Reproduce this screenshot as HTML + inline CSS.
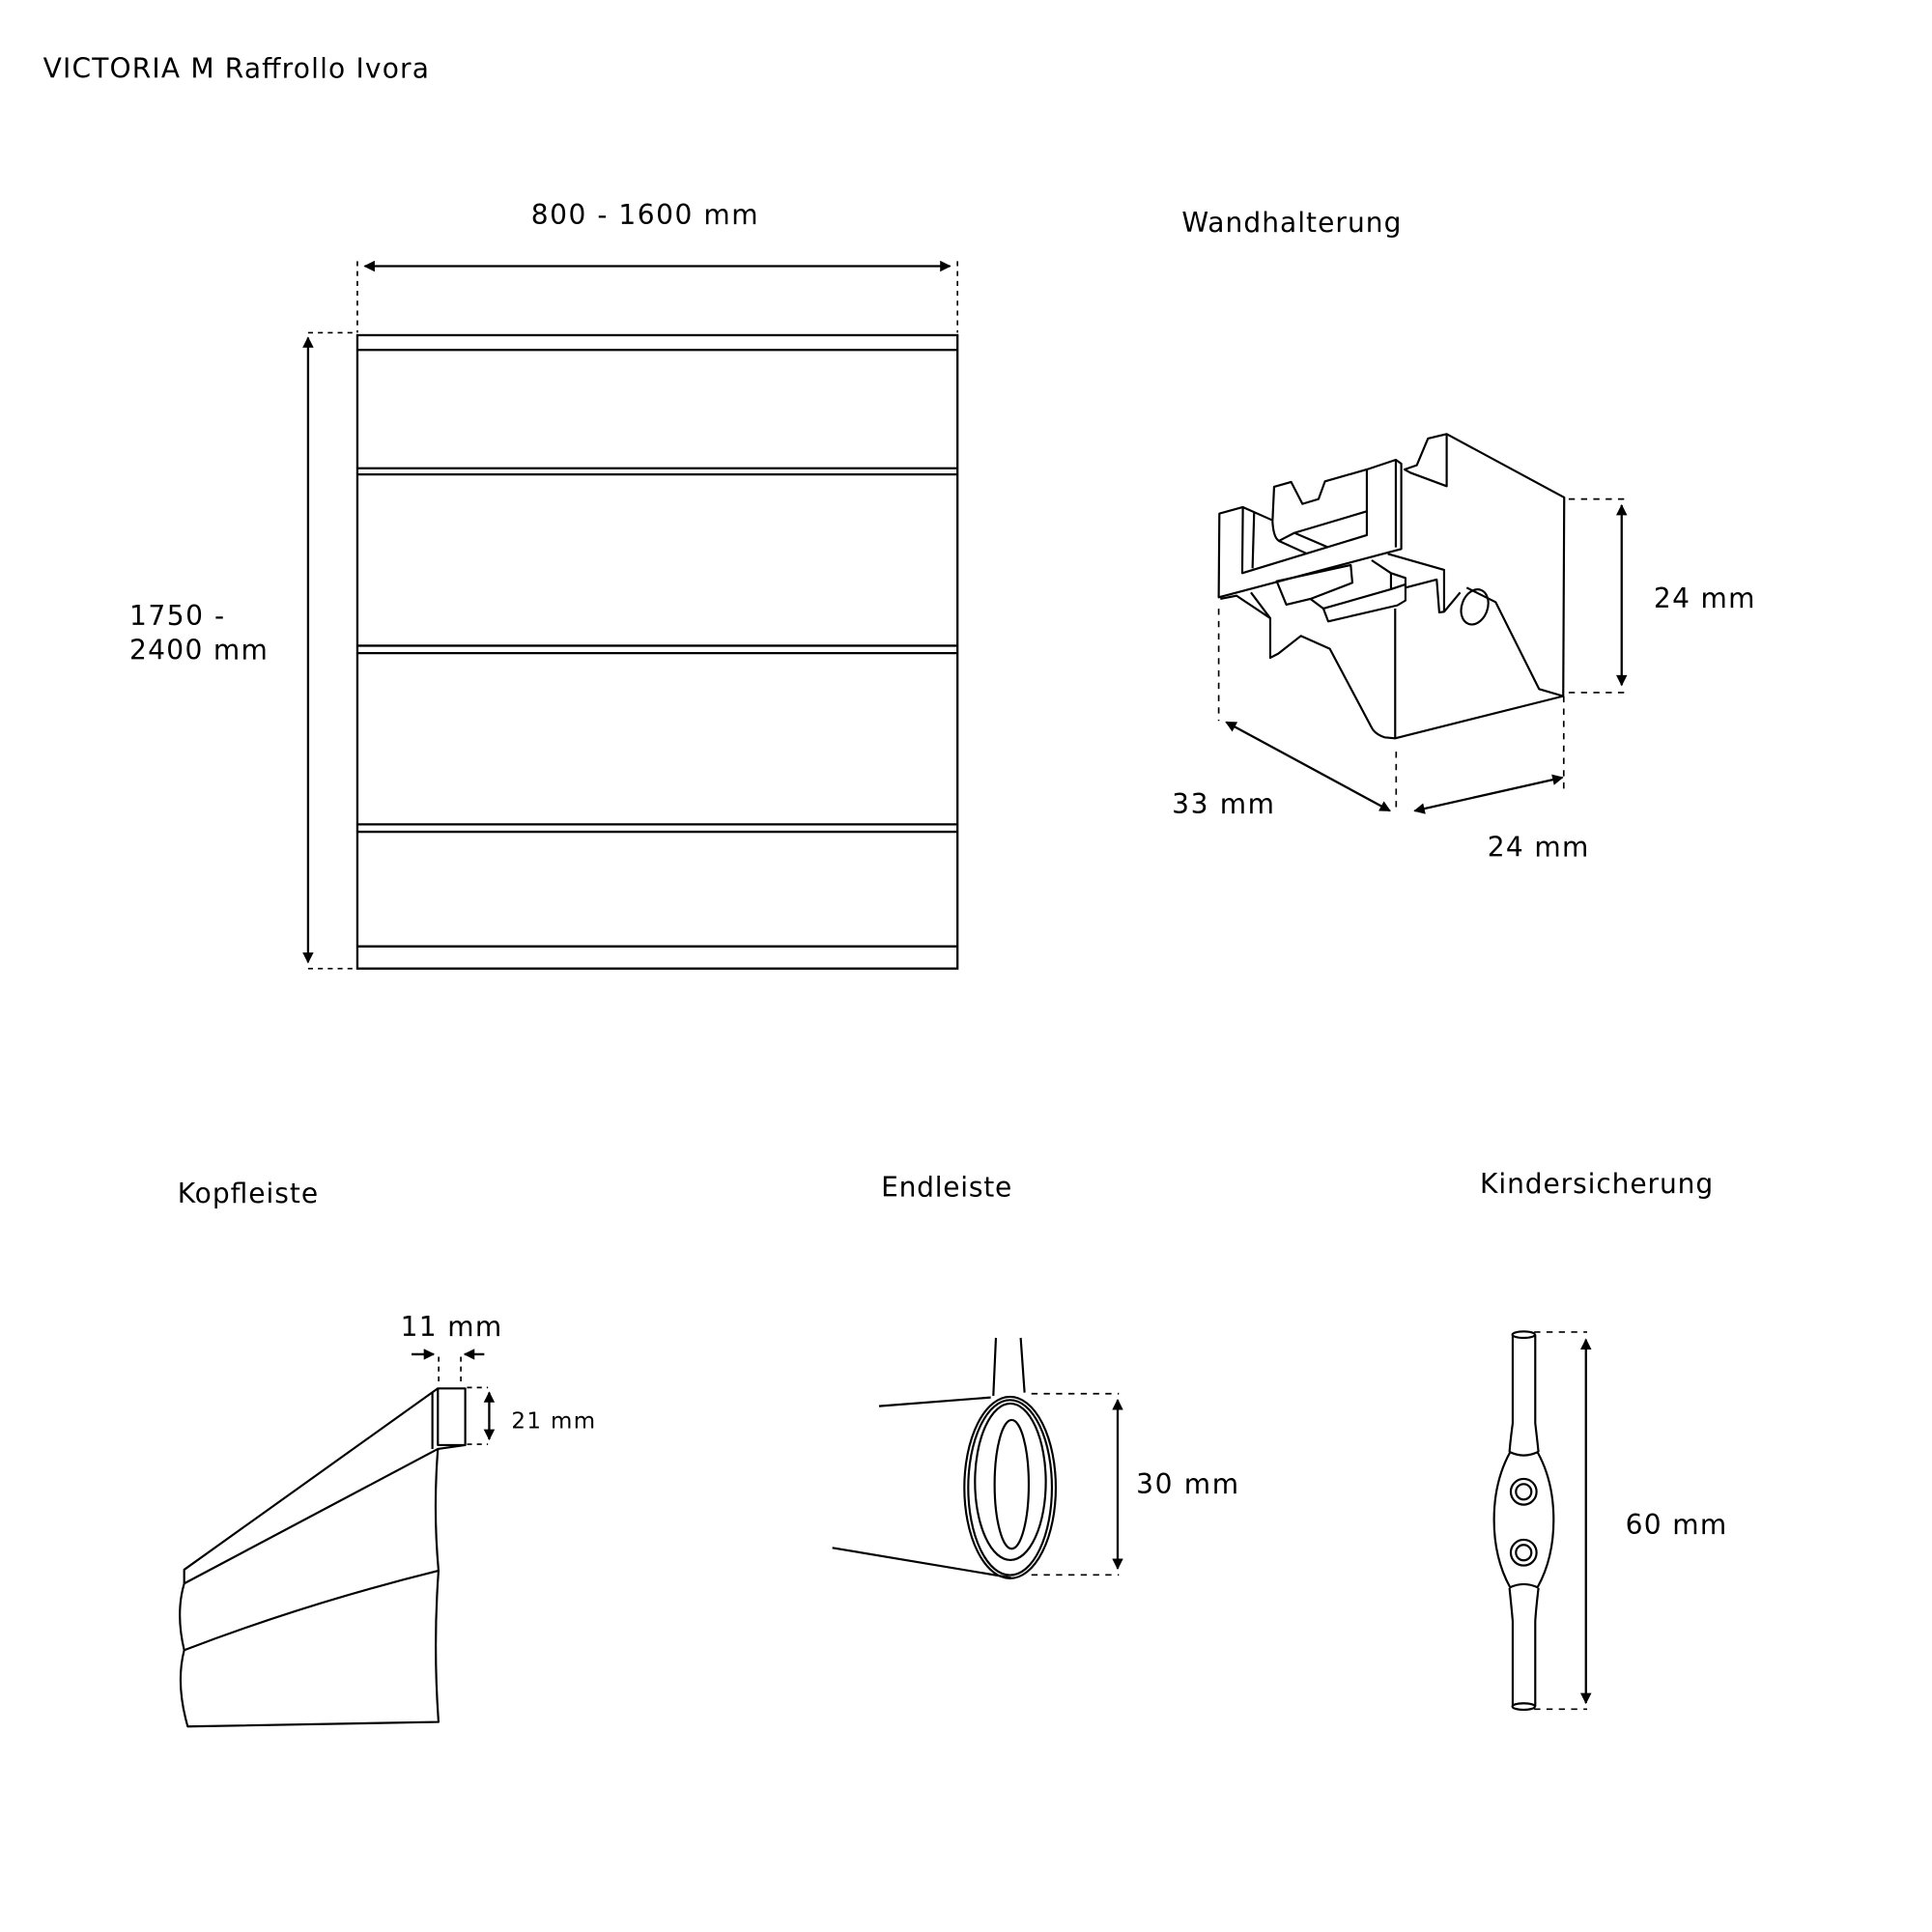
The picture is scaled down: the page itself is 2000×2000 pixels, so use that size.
<!DOCTYPE html>
<html><head><meta charset="utf-8"><style>html,body{margin:0;padding:0;background:#fff}svg{display:block}</style></head>
<body>
<svg width="2000" height="2000" viewBox="0 0 1560 1560" xmlns="http://www.w3.org/2000/svg" font-family="'DejaVu Sans','Liberation Sans',sans-serif" fill="none" stroke="#000">
<defs>
<marker id="a" viewBox="0 0 10 10" refX="9" refY="5" markerWidth="10" markerHeight="9" orient="auto-start-reverse" markerUnits="userSpaceOnUse"><path d="M0,0 L10,5 L0,10 Z" fill="#000" stroke="none"/></marker>
</defs>
<g transform="scale(0.995)">
<g fill="#000" stroke="none" font-size="22">
<text x="35" y="63" textLength="313">VICTORIA M Raffrollo Ivora</text>
<text x="431" y="182" textLength="184">800 - 1600 mm</text>
<text x="959" y="188" textLength="178">Wandhalterung</text>
<text x="1342" y="493" textLength="82">24 mm</text>
<text x="951" y="660" textLength="83">33 mm</text>
<text x="1207" y="695" textLength="82">24 mm</text>
<text x="105" y="507" textLength="77">1750 -</text>
<text x="105" y="535" textLength="112">2400 mm</text>
<text x="144" y="976" textLength="114">Kopfleiste</text>
<text x="715" y="971" textLength="106">Endleiste</text>
<text x="1201" y="968" textLength="189">Kindersicherung</text>
<text x="325" y="1084" textLength="82">11 mm</text>
<text x="415" y="1159" font-size="18" textLength="68">21 mm</text>
<text x="922" y="1212" textLength="83">30 mm</text>
<text x="1319" y="1245" textLength="82">60 mm</text>
</g>

<!-- Main blind -->
<g stroke-width="1.8">
<rect x="290" y="272" width="487" height="514"/>
<line x1="290" y1="284" x2="777" y2="284"/>
<line x1="290" y1="380" x2="777" y2="380"/><line x1="290" y1="385" x2="777" y2="385"/>
<line x1="290" y1="524" x2="777" y2="524"/><line x1="290" y1="530" x2="777" y2="530"/>
<line x1="290" y1="669" x2="777" y2="669"/><line x1="290" y1="675" x2="777" y2="675"/>
<line x1="290" y1="768" x2="777" y2="768"/>
</g>
<g stroke-width="1.3" stroke-dasharray="4,4">
<line x1="290" y1="212" x2="290" y2="270"/><line x1="777" y1="212" x2="777" y2="270"/>
<line x1="250" y1="270" x2="288" y2="270"/><line x1="250" y1="786" x2="288" y2="786"/>
</g>
<line x1="296" y1="216" x2="771" y2="216" stroke-width="1.8" marker-start="url(#a)" marker-end="url(#a)"/>
<line x1="250" y1="274" x2="250" y2="781" stroke-width="1.8" marker-start="url(#a)" marker-end="url(#a)"/>

<!-- Wandhalterung -->
<g transform="scale(0.7839) translate(1200,400) scale(0.3333)" stroke-width="6.5" stroke-linejoin="round">
<path d="M893,148 L1258,345 L1255,962 L733,1093 L733,690"/>
<path d="M893,148 L835,162 L800,245 L762,258 L780,268 L893,310 Z"/>
<path d="M733,1093 L700,1090 Q670,1080 660,1060 L530,815 L440,775 L370,830 L345,843 L345,720 L285,640"/>
<path d="M190,660 L240,650 L345,720"/>
<path d="M185,655 L187,395 L260,375 L258,580 L645,462 L645,258 L735,228 L752,240 L752,505 Z"/>
<path d="M735,228 L735,500 M295,390 L290,565 M260,375 L350,415"/>
<path d="M352,420 L357,312 L410,297 L445,365 L495,350 L515,295 L645,258"/>
<path d="M352,420 Q355,470 372,480 L420,455 L645,388 M372,480 L460,520 M420,455 L525,500"/>
<path d="M365,605 L595,555 L600,610 L470,660 L395,678 Z"/>
<path d="M470,660 L510,690 L525,730 L740,680 L765,665 L765,595 L720,580 L660,540"/>
<path d="M510,690 L720,630 L765,615 M720,630 L720,580"/>
<path d="M710,520 L885,570 L885,700 L870,702 L862,600 L765,625 M885,700 L935,640"/>
<ellipse cx="980" cy="685" rx="40" ry="56" transform="rotate(20 980 685)"/>
<path d="M955,625 L1045,670 L1180,940 L1255,962"/>
</g>
<g stroke-width="1.3" stroke-dasharray="5,5">
<line x1="989" y1="494" x2="989" y2="585"/>
<line x1="1133" y1="610" x2="1133" y2="660"/>
<line x1="1269" y1="565" x2="1269" y2="640"/>
<line x1="1273" y1="405" x2="1320" y2="405"/>
<line x1="1273" y1="562" x2="1320" y2="562"/>
</g>
<line x1="995" y1="586" x2="1128" y2="658" stroke-width="1.8" marker-start="url(#a)" marker-end="url(#a)"/>
<line x1="1148" y1="658" x2="1268" y2="631" stroke-width="1.8" marker-start="url(#a)" marker-end="url(#a)"/>
<line x1="1316" y1="410" x2="1316" y2="556" stroke-width="1.8" marker-start="url(#a)" marker-end="url(#a)"/>

<!-- Kopfleiste -->
<g transform="scale(0.7839) translate(150,1350) scale(0.3333)" stroke-width="6.5" stroke-linejoin="round">
<path d="M122,868 L122,825 L910,262 L995,262 L995,438 L910,450 L122,868"/>
<path d="M893,275 L893,450 M910,262 L910,438 L995,438"/>
<path d="M122,868 Q95,960 122,1075 Q95,1180 133,1312 L912,1298 Q895,1060 912,828 Q895,640 910,450"/>
<path d="M122,1075 Q500,930 912,828"/>
</g>
<g stroke-width="1.3" stroke-dasharray="4,4">
<line x1="356" y1="1101" x2="356" y2="1122"/><line x1="374" y1="1101" x2="374" y2="1122"/>
<line x1="379" y1="1126" x2="396" y2="1126"/><line x1="379" y1="1172" x2="396" y2="1172"/>
</g>
<line x1="334" y1="1099" x2="352" y2="1099" stroke-width="1.8" marker-end="url(#a)"/>
<line x1="393" y1="1099" x2="377" y2="1099" stroke-width="1.8" marker-end="url(#a)"/>
<line x1="397" y1="1130" x2="397" y2="1168" stroke-width="1.8" marker-start="url(#a)" marker-end="url(#a)"/>

<!-- Endleiste -->
<g transform="scale(0.7839) translate(860,1370) scale(0.3333)" stroke-width="6.5">
<path d="M513,45 L505,225 M590,45 L602,215"/>
<ellipse cx="557" cy="510" rx="142" ry="282"/>
<ellipse cx="557" cy="510" rx="130" ry="272"/>
<ellipse cx="558" cy="492" rx="110" ry="243"/>
<ellipse cx="562" cy="500" rx="53" ry="200"/>
<path d="M150,257 L497,230 M5,697 L560,790"/>
</g>
<g stroke-width="1.3" stroke-dasharray="5,5">
<line x1="837" y1="1131" x2="908" y2="1131"/><line x1="837" y1="1278" x2="908" y2="1278"/>
</g>
<line x1="907" y1="1136" x2="907" y2="1273" stroke-width="1.8" marker-start="url(#a)" marker-end="url(#a)"/>

<!-- Kindersicherung -->
<g transform="scale(0.7839) translate(1520,1360) scale(0.3333)" stroke-width="6.5">
<ellipse cx="172" cy="65" rx="35" ry="10"/>
<ellipse cx="172" cy="1220" rx="35" ry="10"/>
<path d="M130,430 Q80,520 80,640 Q80,760 130,850 Q172,830 215,850 Q265,760 265,640 Q265,520 215,430 Q172,450 130,430 Z"/>
<path d="M138,65 L138,340 Q130,400 128,430 M208,65 L208,340 Q215,400 218,430"/>
<path d="M128,852 Q135,920 138,955 L138,1220 M218,852 Q210,920 208,955 L208,1220"/>
<circle cx="172" cy="553" r="40"/><circle cx="172" cy="553" r="24"/>
<circle cx="172" cy="742" r="40"/><circle cx="172" cy="742" r="24"/>
</g>
<g stroke-width="1.3" stroke-dasharray="5,5">
<line x1="1245" y1="1081" x2="1288" y2="1081"/><line x1="1245" y1="1387" x2="1288" y2="1387"/>
</g>
<line x1="1287" y1="1087" x2="1287" y2="1382" stroke-width="1.8" marker-start="url(#a)" marker-end="url(#a)"/>
</g>
</svg>
</body></html>
